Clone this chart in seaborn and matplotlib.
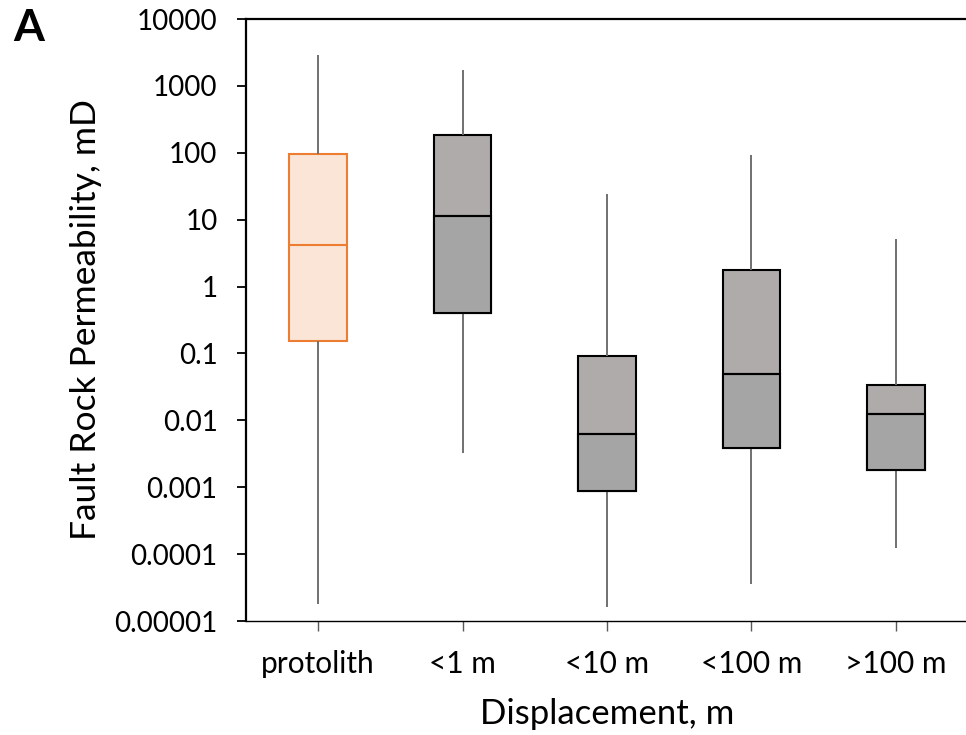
import numpy as np
import pandas as pd
import matplotlib
matplotlib.use("Agg")
import matplotlib.pyplot as plt
import seaborn as sns
from matplotlib.ticker import LogLocator, NullFormatter

# Five-number summaries of fault rock permeability (mD) per displacement class
categories = ["protolith", "<1 m", "<10 m", "<100 m", ">100 m"]
whisker_low = [1.8e-5, 3.2e-3, 1.6e-5, 3.6e-5, 1.22e-4]
quartile_1 = [0.151, 0.40, 0.00087, 0.0038, 0.00178]
median = [4.2, 11.2, 0.0062, 0.049, 0.0126]
quartile_3 = [96, 184, 0.092, 1.74, 0.034]
whisker_high = [2900, 1740, 24, 92, 5.2]

ytick_values = [1e-5, 1e-4, 1e-3, 1e-2, 1e-1, 1, 10, 100, 1000, 10000]
ytick_labels = ["0.00001", "0.0001", "0.001", "0.01", "0.1", "1", "10", "100", "1000", "10000"]

# Colours
peach = "#FBE5D6"
orange = "#ED7D31"
upper_gray = "#AFABAB"
lower_gray = "#A5A5A5"
whisker_gray = "#707070"

# Long-form table: each class contributes its five summary values, so the
# box quartiles and full-range whiskers reproduce the summary exactly
rows = []
for cat, lo, q1, md, q3, hi in zip(categories, whisker_low, quartile_1, median, quartile_3, whisker_high):
    for v in (lo, q1, md, q3, hi):
        rows.append({"Displacement": cat, "Permeability": v})
df = pd.DataFrame(rows)

sns.set_theme(style="ticks")
plt.rcParams["font.family"] = ["Lato", "DejaVu Sans"]

fig = plt.figure(figsize=(9.66, 7.35), dpi=100)
ax = fig.add_axes([246 / 966, 1 - 621 / 735, (968 - 246) / 966, (621 - 19) / 735])

common = dict(x="Displacement", y="Permeability", order=categories, log_scale=True,
              whis=(0, 100), width=0.4, showcaps=False, saturation=1, ax=ax,
              linewidth=1.5)

sns.boxplot(data=df[df["Displacement"] == "protolith"], color=peach, linecolor=orange,
            whiskerprops=dict(color=whisker_gray, linewidth=1.4), **common)
sns.boxplot(data=df[df["Displacement"] != "protolith"], color=upper_gray, linecolor="black",
            whiskerprops=dict(color=whisker_gray, linewidth=1.4), **common)

# Darker shade for the lower half (Q1 to median) of the fault-rock boxes
for i, cat in enumerate(categories):
    if cat == "protolith":
        continue
    ax.bar(i, median[i] - quartile_1[i], bottom=quartile_1[i], width=0.4,
           color=lower_gray, edgecolor="black", linewidth=1.5, zorder=2.05)

ax.set_xlim(-0.5, 4.5)
ax.set_ylim(1e-5, 1e4)
ax.set_yticks(ytick_values, ytick_labels)
ax.yaxis.set_minor_locator(LogLocator(base=10, subs=np.arange(2, 10)))
ax.yaxis.set_minor_formatter(NullFormatter())

ax.spines["right"].set_visible(False)
ax.spines["top"].set_linewidth(1.6)
ax.spines["left"].set_linewidth(1.6)
ax.spines["bottom"].set_linewidth(1.0)
for s in ax.spines.values():
    s.set_color("black")

ax.tick_params(axis="y", which="major", direction="out", length=6.5, width=1.3,
               color="black", pad=14, labelsize=20, labelcolor="black")
ax.tick_params(axis="y", which="minor", direction="out", length=4.5, width=1.0, color="black")
ax.tick_params(axis="x", which="major", direction="out", length=7, width=1.0,
               color="#595959", pad=14, labelsize=21.5, labelcolor="black")

ax.set_xlabel("Displacement, m", fontsize=25, labelpad=14, color="black")
ax.set_ylabel("Fault Rock Permeability, mD", fontsize=25.5, labelpad=9, color="black")

fig.text(0.014, 0.944, "A", fontsize=32, fontweight="bold", color="black")

fig.savefig("out.png", dpi=100)
